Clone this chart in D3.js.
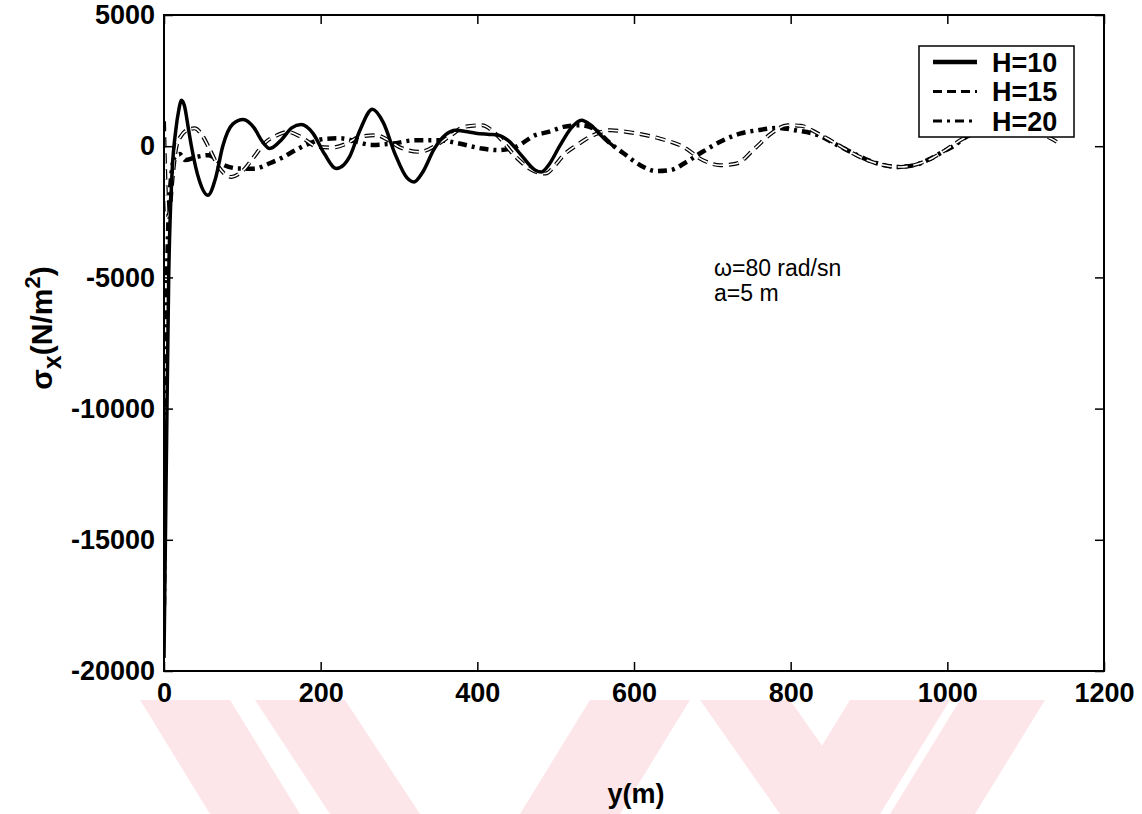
<!DOCTYPE html>
<html>
<head>
<meta charset="utf-8">
<script src="https://cdn.jsdelivr.net/npm/d3@7"></script>
<style>
  body { margin: 0; background: #fff; }
  svg { display: block; font-family: "Liberation Sans", Arial, sans-serif; }
</style>
</head>
<body>
<svg id="chart" width="1142" height="814"></svg>
<script>
// values: [y (m), sigma_x (N/m^2)]
var h10 = [[0,-19500],[3,-12000],[6,-5000],[10,-1200],[15,600],[19,1400],[22,1750],[26,1550],[31,700],[35,0],[45,-1300],[56,-1870],[66,-1200],[75,0],[88,850],[101,1020],[115,700],[125,200],[135,-90],[150,250],[163,700],[175,825],[190,500],[205,-300],[220,-850],[230,-700],[237,-400],[250,600],[266,1410],[280,900],[295,-300],[310,-1200],[319,-1360],[330,-1000],[345,-100],[360,450],[372,610],[385,560],[398,495],[415,450],[427,420],[440,200],[455,-300],[474,-915],[482,-980],[491,-720],[505,0],[520,700],[533,990],[545,800],[560,350],[575,-25]];
var h15 = [[0,950],[2,-1500],[4,-2700],[7,-2500],[11,-1200],[16,0],[22,400],[30,620],[39,680],[48,450],[58,-100],[70,-800],[86,-1170],[100,-950],[115,-400],[128,110],[143,400],[158,545],[175,350],[196,-25],[215,-50],[234,110],[249,355],[271,420],[285,250],[300,-25],[326,-215],[351,100],[368,450],[383,735],[406,800],[423,480],[449,-405],[470,-915],[487,-1040],[500,-700],[510,-343],[527,38],[548,420],[570,610],[591,545],[633,290],[663,-25],[688,-533],[710,-724],[731,-660],[754,-90],[775,480],[796,800],[813,775],[835,480],[852,200],[872,-150],[895,-500],[918,-720],[940,-790],[960,-700],[981,-450],[1000,-100],[1021,300],[1045,560],[1090,640],[1118,480],[1133,280],[1143,100]];
var h20 = [[0,-17500],[2,-9000],[5,-3500],[9,-1200],[14,-400],[20,-300],[27,-530],[40,-420],[57,-343],[75,-700],[95,-850],[115,-860],[135,-650],[150,-450],[168,-150],[185,100],[205,280],[225,300],[245,180],[265,50],[292,100],[321,230],[351,230],[377,100],[406,-90],[427,-150],[449,-25],[474,420],[491,545],[510,735],[531,800],[548,675],[570,100],[587,-280],[608,-724],[629,-950],[646,-915],[667,-600],[684,-280],[714,230],[735,480],[758,610],[784,700],[805,610],[835,420],[860,38],[885,-343],[911,-660],[936,-790],[958,-724],[979,-470],[994,-215],[1010,38],[1021,300],[1040,520],[1075,620],[1105,540],[1125,420]];

var xTicks = [0, 200, 400, 600, 800, 1000, 1200];
var yTicks = [5000, 0, -5000, -10000, -15000, -20000];
var legendNames = ["H=10", "H=15", "H=20"];
var noteLines = ["\u03c9=80 rad/sn", "a=5 m"];

var svg = d3.select("#chart");

// faint watermark behind everything
var mark = svg.append("g").attr("fill", "#fde6ea");
var bands = [
  [[140,700],[230,700],[300,814],[210,814]],
  [[255,700],[345,700],[420,814],[330,814]],
  [[590,700],[690,700],[620,814],[520,814]],
  [[700,700],[790,700],[870,814],[780,814]],
  [[850,700],[950,700],[880,814],[780,814]],
  [[960,700],[1045,700],[975,814],[890,814]]
];
mark.selectAll("polygon").data(bands).enter().append("polygon")
    .attr("points", function (d) { return d.join(" "); });

var pLeft = 164, pRight = 1104, pTop = 15, pBottom = 671;

var x = d3.scaleLinear().domain([0, 1200]).range([pLeft, pRight]);
var y = d3.scaleLinear().domain([-20000, 5000]).range([pBottom, pTop]);

svg.append("defs").append("clipPath").attr("id", "clip")
  .append("rect").attr("x", pLeft).attr("y", pTop).attr("width", pRight - pLeft).attr("height", pBottom - pTop);

var line = d3.line()
    .x(function (d) { return x(d[0]); })
    .y(function (d) { return y(d[1]); })
    .curve(d3.curveMonotoneX);

var plot = svg.append("g").attr("clip-path", "url(#clip)");

// H=20 dash-dot
plot.append("path").datum(h20)
    .attr("d", line).attr("fill", "none")
    .attr("stroke", "#000").attr("stroke-width", 4.5)
    .attr("stroke-dasharray", "9,5,3,5");

// H=15 dashed, scanned as hollow dashes
plot.append("path").datum(h15)
    .attr("d", line).attr("fill", "none")
    .attr("stroke", "#000").attr("stroke-width", 4)
    .attr("stroke-dasharray", "10,6");
plot.append("path").datum(h15)
    .attr("d", line).attr("fill", "none")
    .attr("stroke", "#fff").attr("stroke-width", 1.6)
    .attr("stroke-dasharray", "10,6");

// H=10 solid
plot.append("path").datum(h10)
    .attr("d", line).attr("fill", "none")
    .attr("stroke", "#000").attr("stroke-width", 3.5);

// axes box
var axes = svg.append("g");
axes.append("rect")
    .attr("x", pLeft).attr("y", pTop).attr("width", pRight - pLeft).attr("height", pBottom - pTop)
    .attr("fill", "none").attr("stroke", "#000").attr("stroke-width", 2);

var fmt = function (d) { return String(d); };
axes.append("g").attr("transform", "translate(0," + pBottom + ")")
    .call(d3.axisBottom(x).tickValues(xTicks).tickSizeInner(-9).tickSizeOuter(0).tickPadding(12).tickFormat(fmt));
axes.append("g").attr("transform", "translate(" + pLeft + ",0)")
    .call(d3.axisLeft(y).tickValues(yTicks).tickSizeInner(-9).tickSizeOuter(0).tickPadding(9).tickFormat(fmt));
axes.append("g").attr("transform", "translate(0," + pTop + ")")
    .call(d3.axisTop(x).tickValues(xTicks).tickSizeInner(-9).tickSizeOuter(0).tickFormat(""));
axes.append("g").attr("transform", "translate(" + pRight + ",0)")
    .call(d3.axisRight(y).tickValues(yTicks).tickSizeInner(-9).tickSizeOuter(0).tickFormat(""));

axes.selectAll(".domain").remove();
axes.selectAll(".tick line").attr("stroke", "#000").attr("stroke-width", 1.5);
axes.selectAll(".tick text").attr("fill", "#000").attr("font-size", 27)
    .attr("font-family", "Liberation Sans, Arial, sans-serif").attr("font-weight", "bold");

// axis titles
svg.append("text")
    .attr("x", 636).attr("y", 803)
    .attr("text-anchor", "middle").attr("font-size", 27).attr("font-weight", "bold")
    .text("y(m)");

var yt = svg.append("text")
    .attr("transform", "translate(52,328) rotate(-90)")
    .attr("text-anchor", "middle").attr("font-size", 30).attr("font-weight", "bold");
yt.append("tspan").text("\u03c3");
yt.append("tspan").attr("dy", 9).attr("font-size", 25).text("x");
yt.append("tspan").attr("dy", -9).text("(N/m");
yt.append("tspan").attr("dy", -12).attr("font-size", 22).text("2");
yt.append("tspan").attr("dy", 12).text(")");

// annotation
svg.append("g").selectAll("text").data(noteLines).enter().append("text")
    .attr("x", 714).attr("y", function (d, i) { return 276 + i * 25; })
    .attr("font-size", 23)
    .text(function (d) { return d; });

// legend
var lg = svg.append("g");
var lgX = 919, lgY = 46, lgW = 155, lgH = 91, row = 29.5;
lg.append("rect").attr("x", lgX).attr("y", lgY).attr("width", lgW).attr("height", lgH)
    .attr("fill", "#fff").attr("stroke", "#000").attr("stroke-width", 1.5);
var dashes = [null, "9,5", "9,5,3,5"];
var rows = lg.selectAll("g.row").data(legendNames).enter().append("g")
    .attr("transform", function (d, i) { return "translate(0," + (lgY + 16 + i * row) + ")"; });
rows.append("line")
    .attr("x1", lgX + 14).attr("x2", lgX + 58).attr("y1", 0).attr("y2", 0)
    .attr("stroke", "#000")
    .attr("stroke-width", function (d, i) { return i === 0 ? 4.5 : 3; })
    .attr("stroke-dasharray", function (d, i) { return dashes[i]; });
rows.append("text")
    .attr("x", lgX + 73).attr("y", 0).attr("dy", "0.36em")
    .attr("font-size", 27).attr("font-weight", "bold")
    .text(function (d) { return d; });
</script>
</body>
</html>
